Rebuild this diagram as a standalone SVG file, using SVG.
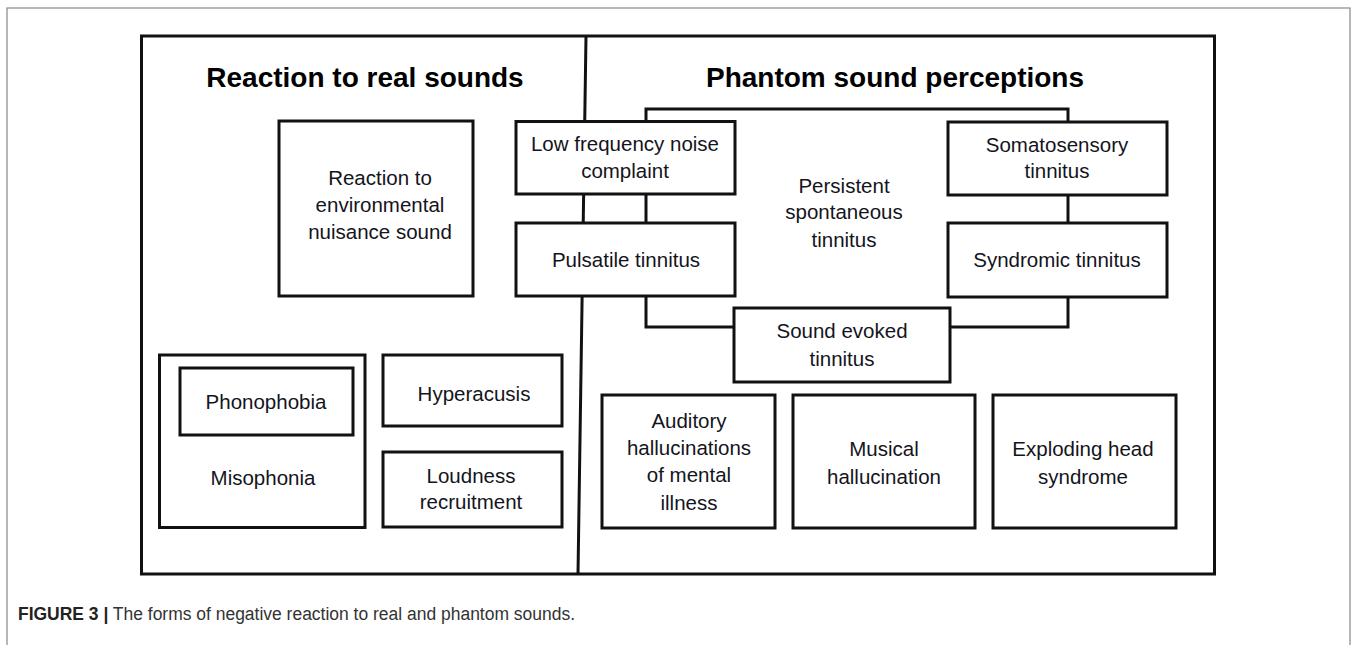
<svg xmlns="http://www.w3.org/2000/svg" width="1357" height="645" viewBox="0 0 1357 645">
<style>
.box{fill:#fff;stroke:#111;stroke-width:3}
.ln{fill:none;stroke:#111;stroke-width:3}
.t{font-family:"Liberation Sans",Arial,sans-serif;font-size:20.5px;fill:#141420;text-anchor:middle}
.h{font-family:"Liberation Sans",Arial,sans-serif;font-size:28px;font-weight:bold;fill:#000;text-anchor:middle}
.cap{font-family:"Liberation Sans",Arial,sans-serif;font-size:18px;fill:#333}
</style>
<rect x="0" y="0" width="1357" height="645" fill="#fff"/>
<rect x="7" y="8" width="1343" height="660" fill="none" stroke="#888" stroke-width="1.2"/>
<g id="frame">
<rect x="141.5" y="36" width="1073" height="538" fill="none" stroke="#111" stroke-width="3"/>
<line x1="586" y1="36" x2="578" y2="574" class="ln"/>
<text class="h" x="365" y="87">Reaction to real sounds</text>
<text class="h" x="895" y="87">Phantom sound perceptions</text>
</g>
<g id="connectors">
<polyline class="ln" points="646,121 646,109 1068,109 1068,121"/>
<line class="ln" x1="646" y1="194" x2="646" y2="223"/>
<line class="ln" x1="1068" y1="195" x2="1068" y2="223"/>
<polyline class="ln" points="646,296 646,327 734,327"/>
<polyline class="ln" points="1068,297 1068,327 950,327"/>
</g>
<g id="persistent">
<text class="t" x="844" y="193">Persistent</text>
<text class="t" x="844" y="219">spontaneous</text>
<text class="t" x="844" y="247">tinnitus</text>
</g>
<g id="env-nuisance">
<rect class="box" x="279" y="121" width="194" height="175"/>
<text class="t" x="380" y="185">Reaction to</text>
<text class="t" x="380" y="212">environmental</text>
<text class="t" x="380" y="239">nuisance sound</text>
</g>
<g id="misophonia">
<rect class="box" x="159.5" y="355" width="205.5" height="172.5"/>
<text class="t" x="263" y="485">Misophonia</text>
</g>
<g id="phonophobia">
<rect class="box" x="180" y="368" width="173" height="67"/>
<text class="t" x="266" y="409">Phonophobia</text>
</g>
<g id="hyperacusis">
<rect class="box" x="383" y="355" width="179" height="71"/>
<text class="t" x="474" y="401">Hyperacusis</text>
</g>
<g id="loudness">
<rect class="box" x="383" y="452" width="179" height="75"/>
<text class="t" x="471" y="483">Loudness</text>
<text class="t" x="471" y="509">recruitment</text>
</g>
<g id="low-frequency">
<rect class="box" x="516" y="121.5" width="219" height="72.5"/>
<text class="t" x="625" y="151">Low frequency noise</text>
<text class="t" x="625" y="178">complaint</text>
</g>
<g id="pulsatile">
<rect class="box" x="516" y="223" width="219" height="73"/>
<text class="t" x="626" y="267">Pulsatile tinnitus</text>
</g>
<g id="somatosensory">
<rect class="box" x="948" y="122" width="219" height="73"/>
<text class="t" x="1057" y="152">Somatosensory</text>
<text class="t" x="1057" y="178">tinnitus</text>
</g>
<g id="syndromic">
<rect class="box" x="948" y="223" width="219" height="74"/>
<text class="t" x="1057" y="267">Syndromic tinnitus</text>
</g>
<g id="sound-evoked">
<rect class="box" x="734" y="308" width="216" height="74"/>
<text class="t" x="842" y="338">Sound evoked</text>
<text class="t" x="842" y="366">tinnitus</text>
</g>
<g id="auditory">
<rect class="box" x="602" y="395" width="173" height="133"/>
<text class="t" x="689" y="428">Auditory</text>
<text class="t" x="689" y="455">hallucinations</text>
<text class="t" x="689" y="482">of mental</text>
<text class="t" x="689" y="510">illness</text>
</g>
<g id="musical">
<rect class="box" x="793" y="395" width="182" height="133"/>
<text class="t" x="884" y="456">Musical</text>
<text class="t" x="884" y="484">hallucination</text>
</g>
<g id="exploding">
<rect class="box" x="993" y="395" width="183" height="133"/>
<text class="t" x="1083" y="456">Exploding head</text>
<text class="t" x="1083" y="484">syndrome</text>
</g>
<text class="cap" x="18" y="620" textLength="557" lengthAdjust="spacingAndGlyphs"><tspan font-weight="bold" fill="#222">FIGURE 3 |</tspan> The forms of negative reaction to real and phantom sounds.</text>
</svg>
